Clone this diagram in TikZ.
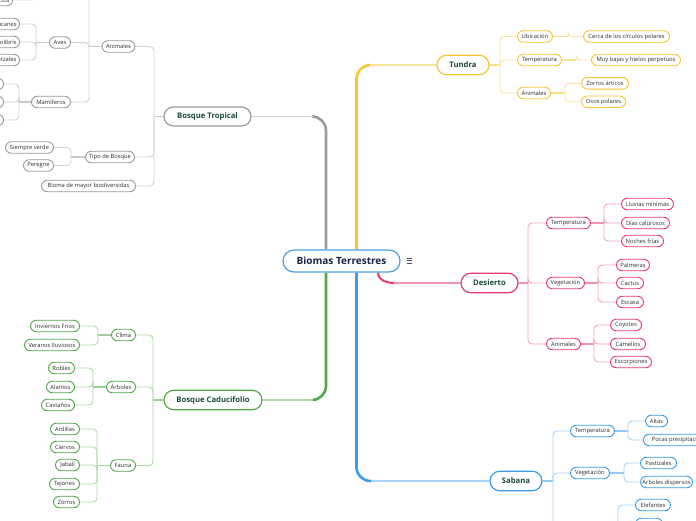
\documentclass[tikz,border=0pt]{standalone}
\usepackage{fontspec}
\setmainfont{Open Sans}
\usetikzlibrary{shapes.misc,calc}
\definecolor{tuM}{HTML}{F8C630}
\definecolor{tuL}{HTML}{FBE3A0}
\definecolor{deM}{HTML}{E83A6B}
\definecolor{deL}{HTML}{F4A5BC}
\definecolor{saM}{HTML}{3A9CEA}
\definecolor{saL}{HTML}{A8D3F6}
\definecolor{bcM}{HTML}{52A84A}
\definecolor{bcL}{HTML}{AEDAA6}
\definecolor{btM}{HTML}{9B9B9B}
\definecolor{btL}{HTML}{D2D2D2}
\definecolor{cM}{HTML}{4E9FE0}
\definecolor{ctxt}{HTML}{16244A}
\definecolor{btxt}{HTML}{1C4A3B}
\definecolor{ltxt}{HTML}{2E2E2E}
\pgfdeclarelayer{bg}
\pgfsetlayers{bg,main}
\newcommand\lfnt{\fontsize{5.8}{6.5}\selectfont}
\newcommand\bfnt{\fontsize{7.7}{9}\selectfont\bfseries}
\newcommand\cfnt{\fontsize{10}{12}\selectfont\bfseries}
\newcommand\mmRight[4]{\coordinate (tmpB) at (#3,0);
  \foreach \ch in {#4}{\draw[linkthin,draw=#1L] (#2.east -| tmpB) |- (\ch.west);}
  \draw[linkstub,draw=#1M!55] (#2.east) -- (#2.east -| tmpB);}
\newcommand\mmLeft[4]{\coordinate (tmpB) at (#3,0);
  \foreach \ch in {#4}{\draw[linkthin,draw=#1L] (#2.west -| tmpB) |- (\ch.east);}
  \draw[linkstub,draw=#1M!55] (#2.west) -- (#2.west -| tmpB);}
\tikzset{
  leaf/.style={rounded rectangle, draw=#1M, line width=0.9pt, fill=white,
    minimum height=11.5pt, inner xsep=2.5pt, inner ysep=0pt, font=\lfnt, text=ltxt},
  big/.style={rounded rectangle, draw=#1M, line width=1.2pt, fill=white,
    minimum height=19.5pt, inner sep=0pt, font=\bfnt, text=btxt},
  linkthin/.style={line width=0.9pt, rounded corners=4pt},
  linkstub/.style={line width=1.8pt},
  trunk/.style={line width=2.6pt, rounded corners=14pt},
  trunkend/.style={line width=1.3pt}
}
\begin{document}
\begin{tikzpicture}[x=1pt,y=-1pt]
\useasboundingbox (0,0) rectangle (696,520);
% central
\node[rounded rectangle, draw=cM, line width=1.2pt, fill=white, minimum width=117pt,
  minimum height=22pt, inner sep=0pt, font=\cfnt, text=ctxt] (c) at (341.5,261) {Biomas Terrestres};
\draw[ctxt!80, line width=0.7pt] (406.5,258) -- (412,258) (406.5,260.8) -- (412,260.8) (406.5,263.6) -- (412,263.6);
% main branches
\node[big=tu, minimum width=52pt] (tu) at (463,65) {Tundra};
\node[big=de, minimum width=57pt] (de) at (489.5,283) {Desierto};
\node[big=sa, minimum width=52pt] (sa) at (516,481) {Sabana};
\node[big=bt, minimum width=87pt, minimum height=19pt] (bt) at (207.5,116.5) {Bosque Tropical};
\node[big=bc, minimum width=98pt] (bc) at (213,400) {Bosque Caducifolio};
% Tundra
\node[leaf=tu, minimum width=40pt] (tu1) at (535,36.5) {Ubicación};
\node[leaf=tu, minimum width=49pt] (tu2) at (539.5,60) {Temperatura};
\node[leaf=tu, minimum width=38pt] (tu3) at (534,93) {Animales};
\node[leaf=tu, minimum width=91pt] (tu1a) at (626.5,36.5) {Cerca de los círculos polares};
\node[leaf=tu, minimum width=94pt] (tu2a) at (636,60) {Muy bajas y hielos perpetuos};
\node[leaf=tu, minimum width=52pt] (tu3a) at (605,83.3) {Zorros árticos};
\node[leaf=tu, minimum width=49pt] (tu3b) at (603.5,101.7) {Osos polares};
% Desierto
\node[leaf=de, minimum width=49pt] (de1) at (568.5,223) {Temperatura};
\node[leaf=de, minimum width=43pt] (de2) at (565.5,283) {Vegetación};
\node[leaf=de, minimum width=39pt] (de3) at (563.5,344) {Animales};
\node[leaf=de, minimum width=57pt] (de1a) at (647.5,204) {Lluvias mínimas};
\node[leaf=de, minimum width=53pt] (de1b) at (645.5,223) {Días calurosos};
\node[leaf=de, minimum width=47pt] (de1c) at (642.5,241) {Noches frías};
\node[leaf=de, minimum width=38pt] (de2a) at (633,265) {Palmeras};
\node[leaf=de, minimum width=32pt] (de2b) at (630,283) {Cactus};
\node[leaf=de, minimum width=32pt] (de2c) at (630,302) {Escasa};
\node[leaf=de, minimum width=36pt] (de3a) at (626,325) {Coyotes};
\node[leaf=de, minimum width=40pt] (de3b) at (628,344) {Camellos};
\node[leaf=de, minimum width=46pt] (de3c) at (631,362) {Escorpiones};
% Sabana
\node[leaf=sa, minimum width=49pt] (sa1) at (592.5,431) {Temperatura};
\node[leaf=sa, minimum width=44pt] (sa2) at (590,473) {Vegetación};
\node[leaf=sa, minimum width=27pt] (sa1a) at (656.5,421) {Altas};
\node[leaf=sa, anchor=west, minimum width=80pt] (sa1b) at (643,440) {Pocas presipitaciones};
\node[leaf=sa, minimum width=41pt] (sa2a) at (658.5,463) {Pastizales};
\node[leaf=sa, minimum width=57pt] (sa2b) at (666.5,482) {Árboles dispersos};
\node[leaf=sa, minimum width=40pt] (el) at (653,505) {Elefantes};
\node[leaf=sa, minimum width=32pt] (el2) at (649,524) {};
% Bosque Tropical
\node[leaf=bt, minimum width=38pt] (bt1) at (118.5,46.5) {Animales};
\node[leaf=bt, minimum width=54pt] (bt2) at (110,157) {Tipo de Bosque};
\node[leaf=bt, minimum width=99pt] (bt3) at (88.5,186) {Bioma de mayor biodiversidas};
\node[leaf=bt, minimum width=26pt] (bt1a) at (60,42.5) {Aves};
\node[leaf=bt, minimum width=44pt] (bt1b) at (51,102) {Mamiferos};
\node[leaf=bt, anchor=east] (bx0) at (13,0) {Insectos};
\node[leaf=bt, anchor=east] (av1) at (20,24) {Tucanes};
\node[leaf=bt, anchor=east] (av2) at (20,42) {Colibrís};
\node[leaf=bt, anchor=east] (av3) at (20,60) {Quetzales};
\node[leaf=bt, anchor=east, minimum width=40pt] (ma1) at (4,84) {};
\node[leaf=bt, anchor=east, minimum width=40pt] (ma2) at (4,102) {};
\node[leaf=bt, anchor=east, minimum width=40pt] (ma3) at (4,120) {};
\node[leaf=bt, minimum width=53pt] (bt2a) at (29.5,147.5) {Siempre verde};
\node[leaf=bt, minimum width=35pt] (bt2b) at (38.5,165.5) {Peregne};
% Bosque Caducifolio
\node[leaf=bc, minimum width=29pt] (bc1) at (123.5,335) {Clima};
\node[leaf=bc, minimum width=34pt] (bc2) at (121,387) {Árboles};
\node[leaf=bc, minimum width=30pt] (bc3) at (123,465.5) {Fauna};
\node[leaf=bc, minimum width=54pt] (bc1a) at (55,326) {Inviernos Fríos};
\node[leaf=bc, minimum width=60pt] (bc1b) at (52,345) {Veranos lluviosos};
\node[leaf=bc, minimum width=31pt] (bc2a) at (61.5,368) {Robles};
\node[leaf=bc, minimum width=33pt] (bc2b) at (60.5,387) {Alamos};
\node[leaf=bc, minimum width=38pt] (bc2c) at (58,405) {Castaños};
\node[leaf=bc, minimum width=34pt] (bc3a) at (65,429) {Ardillas};
\node[leaf=bc, minimum width=34pt] (bc3b) at (65,447) {Ciervos};
\node[leaf=bc, minimum width=29pt] (bc3c) at (67.5,465) {Jabalí};
\node[leaf=bc, minimum width=35pt] (bc3d) at (64.5,484) {Tejones};
\node[leaf=bc, minimum width=31pt] (bc3e) at (66.5,502) {Zorros};
% off-canvas ends
\coordinate (btoff) at (60,-25);
\coordinate (bxoff) at (36,-20);
\coordinate (saoff) at (580,545);
\coordinate (sa3b) at (618,540);
\begin{pgfonlayer}{bg}
\fill[white] (0,0) rectangle (696,520);
% trunks
\draw[btM, trunk] ([xshift=-15.5pt]c.north) |- ($(bt.east)+(61,0)$);
\draw[btL, trunkend] ($(bt.east)+(61,0)$) -- (bt.east);
\draw[tuM, trunk] ([xshift=15pt]c.north) |- ($(tu.west)+(-66,0)$);
\draw[tuL, trunkend] ($(tu.west)+(-66,0)$) -- (tu.west);
\draw[bcM, trunk] ([xshift=-15.5pt]c.south) |- ($(bc.east)+(50,0)$);
\draw[bcL, trunkend] ($(bc.east)+(50,0)$) -- (bc.east);
\draw[saM, trunk] ([xshift=15pt]c.south) |- ($(sa.west)+(-118,0)$);
\draw[saL, trunkend] ($(sa.west)+(-118,0)$) -- (sa.west);
\draw[deM, line width=2pt] ([xshift=36.5pt]c.south) to[out=-90,in=180] ($(de.west)+(-66,0)$);
\draw[deM!55, trunkend] ($(de.west)+(-66,0)$) -- (de.west);
% Tundra
\mmRight{tu}{tu}{500}{tu1,tu2,tu3}
\mmRight{tu}{tu1}{568}{tu1a}
\mmRight{tu}{tu2}{576}{tu2a}
\mmRight{tu}{tu3}{565}{tu3a,tu3b}
% Desierto
\mmRight{de}{de}{528}{de1,de2,de3}
\mmRight{de}{de1}{604}{de1a,de1b,de1c}
\mmRight{de}{de2}{598}{de2a,de2b,de2c}
\mmRight{de}{de3}{594}{de3a,de3b,de3c}
% Sabana
\mmRight{sa}{sa}{553}{sa1,sa2}
\draw[linkthin,draw=saL] (sa.east -| tmpB) |- (saoff);
\mmRight{sa}{sa1}{628}{sa1a,sa1b}
\mmRight{sa}{sa2}{624}{sa2a,sa2b}
\draw[linkthin,draw=saL] (sa3b) |- (el.west);
\draw[linkthin,draw=saL] (sa3b) |- (el2.west);
% Bosque Tropical
\mmLeft{bt}{bt}{154}{bt1,bt2,bt3}
\mmLeft{bt}{bt1}{89}{bt1a,bt1b}
\draw[linkthin,draw=btL] (bt1.west -| tmpB) |- (btoff);
\mmLeft{bt}{bt1a}{36}{av1,av2,av3}
\mmLeft{bt}{bt1b}{19}{ma1,ma2,ma3}
\draw[linkthin,draw=btL] (bx0.east) -| (bxoff);
\mmLeft{bt}{bt2}{71}{bt2a,bt2b}
% Bosque Caducifolio
\mmLeft{bc}{bc}{153}{bc1,bc2,bc3}
\mmLeft{bc}{bc1}{98}{bc1a,bc1b}
\mmLeft{bc}{bc2}{93}{bc2a,bc2b,bc2c}
\mmLeft{bc}{bc3}{97}{bc3a,bc3b,bc3c,bc3d,bc3e}
\end{pgfonlayer}
\end{tikzpicture}
\end{document}
